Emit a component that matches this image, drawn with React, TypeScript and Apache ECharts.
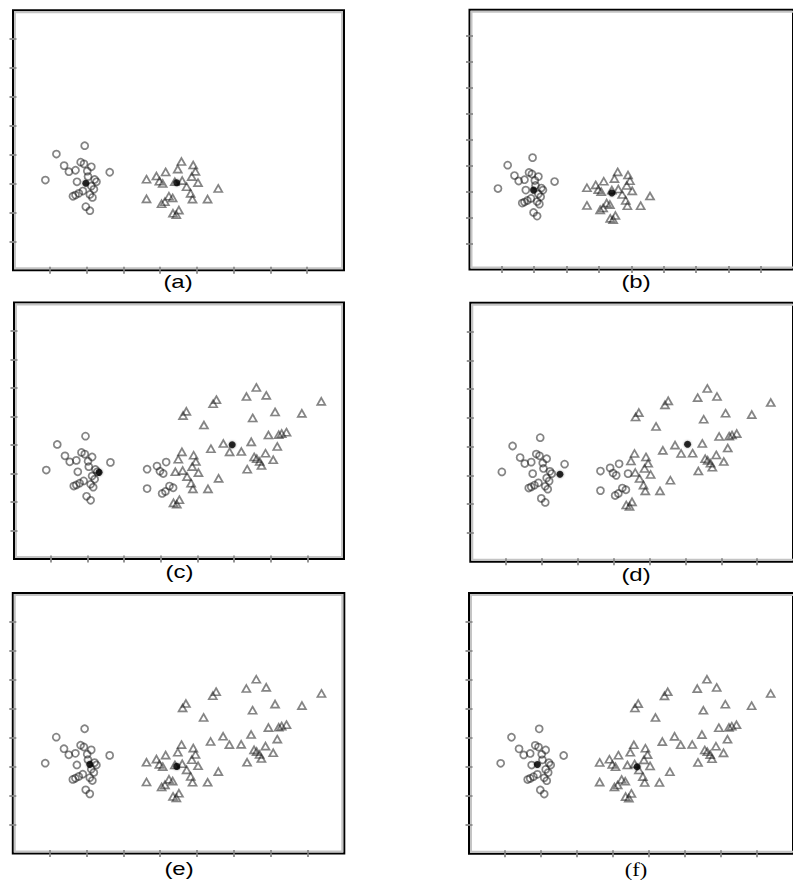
import { useEffect, useRef } from "react";
import * as echarts from "echarts";

// Left cluster (always circles)
const CLUSTER_A: number[][] = [
  [0.88, 3.12], [1.18, 4.02], [1.95, 4.31], [1.39, 3.62], [1.52, 3.41],
  [1.70, 3.46], [1.84, 3.74], [1.93, 3.68], [2.02, 3.43], [2.13, 3.58],
  [2.63, 3.39], [1.74, 3.06], [2.27, 3.06], [2.13, 2.91], [1.63, 2.56],
  [1.79, 2.66], [1.90, 2.74], [2.09, 2.62], [2.16, 2.52], [1.98, 2.20],
  [2.09, 2.06], [2.22, 3.14], [2.04, 3.24], [1.70, 2.60], [2.20, 2.80],
];

// Middle cluster
const CLUSTER_B: number[][] = [
  [3.63, 3.15], [3.63, 2.47], [3.90, 3.26], [3.98, 3.08], [4.07, 3.00],
  [4.15, 3.40], [4.13, 2.37], [4.04, 2.30], [4.34, 2.50], [4.24, 2.56],
  [4.40, 3.06], [4.58, 3.76], [4.48, 3.50], [4.90, 3.64], [4.96, 3.42],
  [4.86, 3.24], [5.03, 3.03], [4.72, 2.89], [4.83, 2.66], [4.88, 2.46],
  [5.29, 2.46], [5.58, 2.83], [4.35, 1.97], [4.51, 2.08], [4.44, 1.92],
  [4.60, 3.10],
];

// Right, spread-out cluster (always triangles, panels c-f)
const CLUSTER_C: number[][] = [
  [4.70, 5.18], [4.61, 5.03], [5.43, 5.45], [5.52, 5.59], [5.18, 4.70],
  [6.34, 5.70], [6.61, 6.02], [6.88, 5.74], [6.51, 4.95], [7.12, 5.16],
  [7.85, 5.11], [8.38, 5.53], [5.37, 3.87], [5.71, 4.05], [5.88, 3.76],
  [6.20, 3.77], [6.47, 4.11], [6.94, 4.35], [7.22, 4.36], [7.30, 4.40],
  [7.43, 4.45], [7.18, 3.95], [6.86, 3.71], [6.55, 3.58], [6.62, 3.52],
  [6.70, 3.42], [6.75, 3.28], [7.07, 3.48], [6.36, 3.15],
];

// Marker assignment of the middle cluster per panel: 0 = circle, 1 = triangle
const B_LABELS_A = [1, 1, 1, 1, 1, 1, 1, 1, 1, 1, 1, 1, 1, 1, 1, 1, 1, 1, 1, 1, 1, 1, 1, 1, 1, 1];
const B_LABELS_B = [1, 1, 1, 1, 1, 1, 1, 1, 1, 1, 1, 1, 1, 1, 1, 1, 1, 1, 1, 1, 1, 1, 1, 1, 1, 1];
const B_LABELS_C = [0, 0, 0, 0, 0, 0, 0, 0, 0, 0, 1, 1, 1, 1, 1, 1, 1, 1, 1, 1, 1, 1, 1, 1, 1, 1];
const B_LABELS_D = [0, 0, 0, 0, 0, 0, 0, 0, 0, 0, 0, 1, 1, 1, 1, 1, 1, 1, 1, 1, 1, 1, 1, 1, 1, 1];
const B_LABELS_E = [1, 1, 1, 1, 1, 1, 1, 1, 1, 1, 1, 1, 1, 1, 1, 1, 1, 1, 1, 1, 1, 1, 1, 1, 1, 1];
const B_LABELS_F = [1, 1, 1, 1, 1, 1, 1, 1, 1, 1, 1, 1, 1, 1, 1, 1, 1, 1, 1, 1, 1, 1, 1, 1, 1, 1];

// Centroids (black dots) per panel
const CENTROIDS_A = [[1.98, 3.01], [4.45, 3.03]];
const CENTROIDS_B = [[1.98, 3.06], [4.40, 2.95]];
const CENTROIDS_C = [[2.32, 3.04], [5.95, 4.01]];
const CENTROIDS_D = [[2.50, 3.04], [6.06, 4.08]];
const CENTROIDS_E = [[2.09, 3.08], [4.45, 3.01]];
const CENTROIDS_F = [[1.90, 3.08], [4.67, 3.00]];

const TICKS_9 = [1, 2, 3, 4, 5, 6, 7, 8];
const TICKS_10 = [1, 2, 3, 4, 5, 6, 7, 8, 9];
const PANEL_LABELS = ["(a)", "(b)", "(c)", "(d)", "(e)", "(f)"];

const SANS = '"Liberation Sans", Arial, Helvetica, sans-serif';
const SERIF = '"Liberation Serif", "Times New Roman", Times, serif';

type Panel = {
  box: [number, number, number, number];
  max: number;
  ticks: number[];
  bLabels: number[];
  showC: boolean;
  centroids: number[][];
  label: string;
  labelPos: [number, number];
  font: string;
  scaleX: number;
};

const PANELS: Panel[] = [
  { box: [13, 10.2, 331, 260], max: 9, ticks: TICKS_9, bLabels: B_LABELS_A, showC: false, centroids: CENTROIDS_A, label: PANEL_LABELS[0], labelPos: [178, 282], font: SANS, scaleX: 1.33 },
  { box: [469.5, 9.8, 330, 259.8], max: 10, ticks: TICKS_10, bLabels: B_LABELS_B, showC: false, centroids: CENTROIDS_B, label: PANEL_LABELS[1], labelPos: [636, 282], font: SANS, scaleX: 1.33 },
  { box: [14, 302.5, 330, 256.5], max: 9, ticks: TICKS_9, bLabels: B_LABELS_C, showC: true, centroids: CENTROIDS_C, label: PANEL_LABELS[2], labelPos: [179.5, 572], font: SANS, scaleX: 1.33 },
  { box: [470.3, 302.7, 329, 259], max: 9, ticks: TICKS_9, bLabels: B_LABELS_D, showC: true, centroids: CENTROIDS_D, label: PANEL_LABELS[3], labelPos: [636, 575], font: SANS, scaleX: 1.33 },
  { box: [12.8, 593, 331.5, 260.5], max: 9, ticks: TICKS_9, bLabels: B_LABELS_E, showC: true, centroids: CENTROIDS_E, label: PANEL_LABELS[4], labelPos: [179, 869], font: SANS, scaleX: 1.33 },
  { box: [469, 593, 331, 260.7], max: 9, ticks: TICKS_9, bLabels: B_LABELS_F, showC: true, centroids: CENTROIDS_F, label: PANEL_LABELS[5], labelPos: [636, 870], font: SERIF, scaleX: 1.25 },
];

const MARK_STROKE = "rgba(30,30,30,0.55)";

function buildOption() {
  const grid: any[] = [];
  const xAxis: any[] = [];
  const yAxis: any[] = [];
  const series: any[] = [];
  const graphic: any[] = [];

  PANELS.forEach((p, i) => {
    const [left, top, width, height] = p.box;
    grid.push({
      left, top, width, height,
      show: true,
      borderColor: "#000",
      borderWidth: 2,
      backgroundColor: "transparent",
    });
    const axis = (position: string) => ({
      type: "value",
      gridIndex: i,
      position,
      min: 0,
      max: p.max,
      interval: 1,
      z: 6,
      axisLine: { show: false },
      axisLabel: { show: false },
      splitLine: { show: false },
      axisTick: {
        show: true,
        inside: true,
        length: 3.5,
        customValues: p.ticks,
        lineStyle: { color: "#8a8a8a", width: 1.8 },
      },
    });
    xAxis.push(axis("bottom"), axis("top"));
    yAxis.push(axis("left"), axis("right"));

    const circles: number[][] = [...CLUSTER_A];
    const triangles: number[][] = [];
    CLUSTER_B.forEach((pt, k) => {
      if (p.bLabels[k] === 0) circles.push(pt);
      else triangles.push(pt);
    });
    if (p.showC) CLUSTER_C.forEach((pt) => triangles.push(pt));

    const base = {
      type: "scatter",
      xAxisIndex: 2 * i,
      yAxisIndex: 2 * i,
      silent: true,
      emphasis: { disabled: true },
    };
    const hollow = {
      color: "rgba(255,255,255,0)",
      borderColor: MARK_STROKE,
      borderWidth: 1.7,
      shadowBlur: 1.5,
      shadowColor: "rgba(0,0,0,0.35)",
    };
    series.push({
      ...base,
      symbol: "circle",
      symbolSize: 7,
      itemStyle: hollow,
      data: circles,
      z: 3,
    });
    series.push({
      ...base,
      symbol: "triangle",
      symbolSize: [8, 7],
      itemStyle: hollow,
      data: triangles,
      z: 3,
    });
    series.push({
      ...base,
      symbol: "circle",
      symbolSize: 7,
      itemStyle: { color: "#000", borderWidth: 0, shadowBlur: 2, shadowColor: "rgba(0,0,0,0.5)" },
      data: p.centroids,
      z: 5,
    });

    // inner grey band of the frame
    graphic.push({
      type: "rect",
      silent: true,
      z: 0,
      shape: { x: left + 2, y: top + 2, width: width - 4, height: height - 4 },
      style: { fill: "none", stroke: "#c4c4c4", lineWidth: 2 },
    });
    graphic.push({
      type: "text",
      silent: true,
      x: p.labelPos[0],
      y: p.labelPos[1],
      scaleX: p.scaleX,
      scaleY: 1,
      style: {
        text: p.label,
        font: `18px ${p.font}`,
        fill: "#000",
        textAlign: "center",
        textVerticalAlign: "middle",
        align: "center",
        verticalAlign: "middle",
      },
    });
  });

  return {
    animation: false,
    backgroundColor: "#fff",
    grid,
    xAxis,
    yAxis,
    series,
    graphic,
  };
}

export default function App() {
  const ref = useRef<HTMLDivElement>(null);
  useEffect(() => {
    if (!ref.current) return;
    const chart = echarts.init(ref.current, undefined, { renderer: "svg" });
    chart.setOption(buildOption() as any);
    return () => chart.dispose();
  }, []);
  return (
    <div
      ref={ref}
      style={{ position: "absolute", left: 0, top: 0, width: 793, height: 883, background: "#fff" }}
    />
  );
}
